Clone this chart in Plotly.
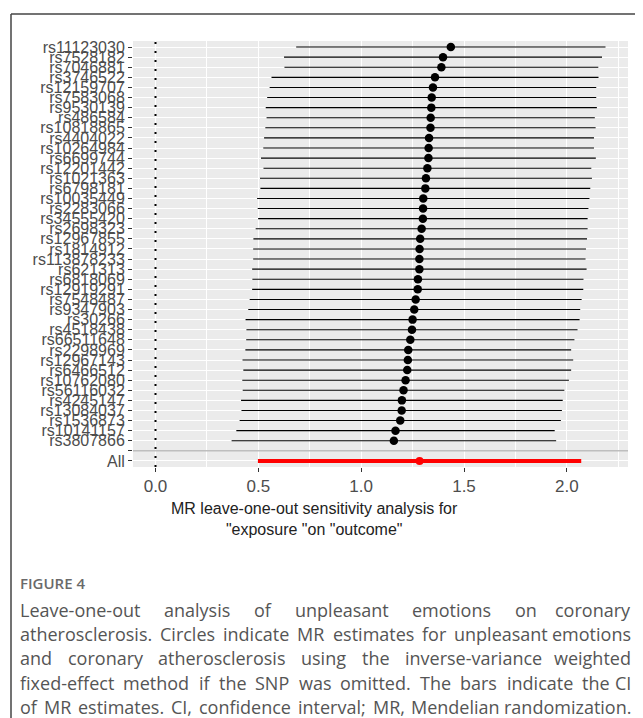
import plotly.graph_objects as go

# ---------------- data ----------------
snps = ["rs11123030", "rs7528182", "rs7046881", "rs3746522", "rs12159707",
        "rs7583068", "rs9530139", "rs486584", "rs10818865", "rs4404022",
        "rs10264984", "rs6699744", "rs12201442", "rs1021363", "rs6798181",
        "rs10035449", "rs2283066", "rs34555420", "rs2698323", "rs12967855",
        "rs1814912", "rs113878233", "rs621313", "rs6818069", "rs12919291",
        "rs7548487", "rs9347903", "rs30266", "rs4518438", "rs66511648",
        "rs2298969", "rs12967143", "rs6466512", "rs10762080", "rs56116032",
        "rs4245147", "rs13084037", "rs1536873", "rs10141157", "rs3807866"]
b = [1.436, 1.398, 1.390, 1.359, 1.349, 1.343, 1.341, 1.338, 1.337, 1.330,
     1.328, 1.327, 1.322, 1.315, 1.312, 1.302, 1.301, 1.300, 1.294, 1.287,
     1.284, 1.283, 1.283, 1.276, 1.275, 1.265, 1.258, 1.250, 1.247, 1.239,
     1.229, 1.227, 1.224, 1.216, 1.206, 1.198, 1.197, 1.190, 1.167, 1.159]
lo = [0.684, 0.625, 0.627, 0.564, 0.555, 0.543, 0.536, 0.540, 0.534, 0.528,
      0.524, 0.513, 0.525, 0.508, 0.510, 0.494, 0.497, 0.499, 0.487, 0.476,
      0.475, 0.475, 0.470, 0.471, 0.470, 0.458, 0.451, 0.438, 0.442, 0.441,
      0.437, 0.423, 0.427, 0.422, 0.424, 0.416, 0.418, 0.409, 0.393, 0.370]
hi = [2.188, 2.171, 2.153, 2.154, 2.143, 2.143, 2.146, 2.136, 2.140, 2.132,
      2.132, 2.141, 2.119, 2.122, 2.114, 2.110, 2.105, 2.101, 2.101, 2.098,
      2.093, 2.091, 2.096, 2.081, 2.080, 2.072, 2.065, 2.062, 2.052, 2.037,
      2.021, 2.031, 2.021, 2.010, 1.988, 1.980, 1.976, 1.971, 1.941, 1.948]
all_label = "All"
all_b, all_lo, all_hi = 1.284, 0.498, 2.070

x_title = "MR leave-one-out sensitivity analysis for<br>\"exposure \"on \"outcome\""
fig_label = "FIGURE 4"
caption_lines = [
    "Leave-one-out analysis of unpleasant emotions on coronary",
    "atherosclerosis. Circles indicate MR estimates for unpleasant emotions",
    "and coronary atherosclerosis using the inverse-variance weighted",
    "fixed-effect method if the SNP was omitted. The bars indicate the CI",
    "of MR estimates. CI, confidence interval; MR, Mendelian randomization.",
]

# ---------------- layout geometry ----------------
# the page body has an 8px margin, so the figure is 8px smaller and all
# reference pixel positions are shifted by OFF
OFF = 8
W, H = 643 - OFF, 718 - OFF
ML, MR, MT, MB = 125, 15, 33, 251
PW, PH = W - ML - MR, H - MT - MB


def pxx(x):
    return (x - OFF - ML) / PW


def pxy(y):
    return (H - MB - (y - OFF)) / PH


n = len(snps)
rows = list(range(n))
blank_row = n
all_row = n + 1
tick_rows = list(range(n + 2))
tick_text = snps + ["", all_label]

fig = go.Figure()
fig.add_trace(go.Scatter(
    x=b, y=rows, mode="markers",
    marker=dict(color="black", size=8.5),
    error_x=dict(type="data", symmetric=False,
                 array=[h - v for h, v in zip(hi, b)],
                 arrayminus=[v - l for v, l in zip(b, lo)],
                 color="black", thickness=1.1, width=0),
    showlegend=False, hoverinfo="skip"))
fig.add_trace(go.Scatter(
    x=[all_b], y=[all_row], mode="markers",
    marker=dict(color="#FF0000", size=8),
    error_x=dict(type="data", symmetric=False,
                 array=[all_hi - all_b], arrayminus=[all_b - all_lo],
                 color="#FF0000", thickness=4, width=0),
    showlegend=False, hoverinfo="skip"))

xmin = min(min(lo), 0.0)
xmax = max(hi)
pad = 0.05 * (xmax - xmin)

fig.update_xaxes(
    range=[xmin - pad, xmax + pad], tickmode="linear", tick0=0, dtick=0.5,
    tickformat=".1f", showgrid=True, gridcolor="white", gridwidth=1.4,
    minor=dict(tickmode="linear", tick0=0, dtick=0.25, showgrid=True,
               gridcolor="white", gridwidth=0.7),
    ticks="outside", ticklen=4, tickwidth=1.1, tickcolor="#333333",
    tickfont=dict(family="Liberation Sans, Arial", size=17, color="#4D4D4D"),
    zeroline=False, showline=False)
fig.update_yaxes(
    range=[all_row + 0.6, -0.6], tickmode="array", tickvals=tick_rows,
    ticktext=tick_text, showgrid=True, gridcolor="white", gridwidth=1.4,
    ticks="outside", ticklen=4, tickwidth=1.1, tickcolor="#333333",
    tickfont=dict(family="Liberation Sans, Arial", size=16, color="#4D4D4D"),
    zeroline=False, showline=False)

shapes = [
    dict(type="line", xref="x", yref="paper", x0=0, x1=0, y0=0, y1=1,
         line=dict(color="black", width=2, dash="2px,7px")),
    dict(type="line", xref="paper", yref="y", x0=0, x1=1,
         y0=blank_row, y1=blank_row, line=dict(color="#BEBEBE", width=1.5)),
    # page frame
    dict(type="line", xref="paper", yref="paper", x0=pxx(11), x1=pxx(643),
         y0=pxy(14), y1=pxy(14), line=dict(color="#444444", width=1.5)),
    dict(type="line", xref="paper", yref="paper", x0=pxx(11), x1=pxx(11),
         y0=pxy(14), y1=pxy(718), line=dict(color="#444444", width=1.5)),
]

annotations = [
    dict(text=x_title, xref="paper", yref="paper", x=pxx(314), y=pxy(519),
         xanchor="center", yanchor="middle", showarrow=False,
         font=dict(family="Liberation Sans, Arial", size=16, color="#222222")),
    dict(text=fig_label, xref="paper", yref="paper", x=pxx(18), y=pxy(583),
         xanchor="left", yanchor="middle", showarrow=False,
         font=dict(family="Open Sans", size=15, color="#6A6A6A", weight=600)),
]

# approximate Open Sans advance widths (em) used to justify caption lines
cw = {' ': .260, 'a': .556, 'b': .613, 'c': .476, 'd': .613, 'e': .561,
      'f': .339, 'g': .548, 'h': .614, 'i': .253, 'j': .253, 'k': .525,
      'l': .253, 'm': .930, 'n': .614, 'o': .604, 'p': .613, 'q': .613,
      'r': .408, 's': .477, 't': .353, 'u': .614, 'v': .501, 'w': .778,
      'x': .524, 'y': .502, 'z': .477, '.': .266, ',': .245, ';': .266,
      '-': .322, 'C': .635, 'F': .539, 'G': .725, 'I': .274, 'L': .539,
      'M': .905, 'N': .759, 'P': .603, 'R': .615, 'S': .544, 'T': .542,
      'U': .716, 'E': .546}


def em_width(s):
    return sum(cw.get(ch, .57) for ch in s)


x_left, x_right = 18, 633
natural = max(em_width(t) for t in caption_lines)
FS = round(0.97 * (x_right - x_left) / natural, 1)
line_y = [610, 634, 658, 683, 707]
for txt, yy in zip(caption_lines, line_y):
    words = txt.split(" ")
    widths = [em_width(w) * FS for w in words]
    gap = (x_right - x_left - sum(widths)) / (len(words) - 1)
    xpos = x_left
    for i, (w, wd) in enumerate(zip(words, widths)):
        last = i == len(words) - 1
        annotations.append(dict(
            text=w, xref="paper", yref="paper",
            x=pxx(x_right if last else xpos), y=pxy(yy),
            xanchor="right" if last else "left", yanchor="middle",
            showarrow=False,
            font=dict(family="Open Sans", size=FS, color="#555555")))
        xpos += wd + gap

fig.update_layout(
    width=W, height=H, margin=dict(l=ML, r=MR, t=MT, b=MB, pad=0),
    plot_bgcolor="#EBEBEB", paper_bgcolor="white",
    shapes=shapes, annotations=annotations, showlegend=False)

fig.write_html("out.html")
